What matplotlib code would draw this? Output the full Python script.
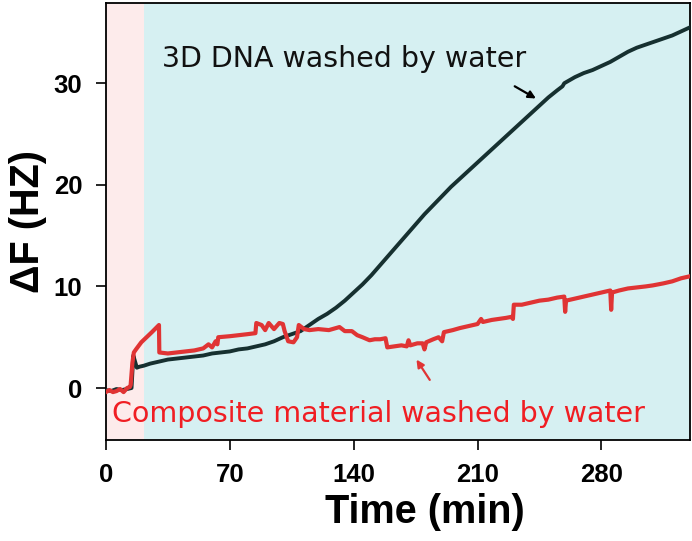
import matplotlib
matplotlib.use("Agg")
import matplotlib.pyplot as plt

plt.rcParams['font.family'] = ['Liberation Sans', 'DejaVu Sans']

# time (min) / delta F (Hz)
t_dna = [0, 3, 6, 9, 12, 14.5, 15.5, 16.5, 17.5, 19, 21.5, 25, 30, 35, 40, 45,
         50, 55, 60, 65, 70, 75, 80, 85, 90, 95, 100, 105, 110, 115, 120, 125,
         130, 135, 140, 145, 150, 155, 160, 165, 170, 175, 180, 185, 190, 195,
         200, 205, 210, 215, 220, 225, 230, 235, 240, 245, 250, 255, 258, 259,
         265, 270, 275, 280, 285, 290, 295, 300, 305, 310, 315, 320, 325, 330]
f_dna = [-0.2, -0.3, -0.1, -0.2, -0.1, 0.0, 3.2, 2.6, 2.0, 2.1, 2.2, 2.4, 2.6,
         2.8, 2.9, 3.0, 3.1, 3.2, 3.4, 3.5, 3.6, 3.8, 3.9, 4.1, 4.3, 4.6, 5.0,
         5.3, 5.6, 6.2, 6.8, 7.3, 7.9, 8.6, 9.4, 10.2, 11.1, 12.1, 13.1, 14.1,
         15.1, 16.1, 17.1, 18.0, 18.9, 19.8, 20.6, 21.4, 22.2, 23.0, 23.8, 24.6,
         25.4, 26.2, 27.0, 27.8, 28.6, 29.3, 29.7, 30.0, 30.6, 31.0, 31.3, 31.7,
         32.1, 32.6, 33.1, 33.5, 33.8, 34.1, 34.4, 34.7, 35.1, 35.5]

t_comp = [0, 2, 4, 6, 8, 10, 12, 13.5, 14, 15, 15.8, 17, 20, 23, 26, 30, 30.2,
          35, 40, 45, 50, 55, 58, 60, 62, 63, 63.5, 70, 75, 80, 84.5, 85, 88, 90,
          92, 95, 98, 100, 101, 103, 106, 108, 109, 112, 115, 120, 126, 130, 132,
          135, 139, 142, 145, 149, 152, 155, 158, 159, 163, 167, 170, 171, 172,
          176, 179, 180, 181, 185, 188, 190, 191, 196, 200, 205, 210, 212, 213,
          218, 222, 226, 229, 230, 230.5, 235, 240, 245, 250, 255, 259, 259.5,
          260, 265, 270, 275, 280, 285, 285.5, 286, 290, 295, 300, 305, 309, 315,
          320, 325, 330]
f_comp = [-0.4, -0.2, -0.4, -0.3, -0.1, -0.4, 0.0, 0.1, 0.3, 2.5, 3.5, 3.8, 4.5,
          5.0, 5.5, 6.2, 3.5, 3.4, 3.5, 3.6, 3.7, 3.9, 4.3, 4.0, 4.6, 4.3, 5.0,
          5.1, 5.2, 5.3, 5.4, 6.4, 6.2, 5.7, 6.4, 5.8, 6.4, 6.3, 5.6, 4.6, 4.5,
          5.0, 6.2, 5.8, 5.7, 5.8, 5.7, 5.9, 6.0, 5.6, 5.6, 5.2, 5.0, 4.7, 4.8,
          4.8, 4.9, 4.0, 4.1, 4.2, 4.1, 4.7, 4.2, 4.4, 4.4, 3.8, 4.5, 4.8, 5.0,
          4.6, 5.5, 5.7, 5.9, 6.1, 6.3, 6.8, 6.5, 6.7, 6.8, 6.9, 7.0, 6.8, 8.2,
          8.2, 8.4, 8.6, 8.7, 8.9, 9.0, 7.5, 8.6, 8.8, 9.0, 9.2, 9.4, 9.6, 7.7,
          9.4, 9.6, 9.8, 9.9, 10.0, 10.1, 10.3, 10.5, 10.8, 11.0]

wash_start = 21.5
x_ticks = [0, 70, 140, 210, 280]
y_ticks = [0, 10, 20, 30]

fig = plt.figure(figsize=(6.92, 5.41), dpi=100)
ax = fig.add_axes([0.153, 0.187, 0.844, 0.8075])

ax.axvspan(0, wash_start, color='#fdebeb', lw=0, zorder=0)
ax.axvspan(wash_start, 330, color='#d6f0f2', lw=0, zorder=0)

ax.plot(t_dna, f_dna, color='#163030', lw=2.8, zorder=3)
ax.plot(t_comp, f_comp, color='#e03434', lw=3.0, zorder=4)

ax.text(31.7, 31.6, '3D DNA washed by water', family='DejaVu Sans',
        fontsize=20.5, color='#111111', va='baseline', zorder=5)
ax.text(3.4, -3.35, 'Composite material washed by water', family='DejaVu Sans',
        fontsize=20.5, color='#f01e23', va='baseline', zorder=5)

ax.annotate('', xy=(243, 28.5), xytext=(231, 29.7),
            arrowprops=dict(arrowstyle='-|>', color='black', lw=1.6,
                            mutation_scale=11, shrinkA=0, shrinkB=0))
ax.annotate('', xy=(175.5, 2.8), xytext=(183, 0.8),
            arrowprops=dict(arrowstyle='-|>', color='#e03434', lw=1.6,
                            mutation_scale=11, shrinkA=0, shrinkB=0))

ax.set_xlim(0, 330)
ax.set_ylim(-5.1, 37.9)
ax.set_xticks(x_ticks)
ax.set_yticks(y_ticks)
ax.tick_params(direction='out', length=7, width=1.2, labelsize=18.5, pad=10)
for lab in ax.get_xticklabels() + ax.get_yticklabels():
    lab.set_fontweight('bold')
for s in ax.spines.values():
    s.set_linewidth(1.3)

ax.set_xlabel('Time (min)', fontsize=28.5, fontweight='bold', labelpad=4, x=0.547)
ax.set_ylabel('ΔF (HZ)', fontsize=28.5, fontweight='bold', labelpad=5)

fig.savefig('out.png', dpi=100)
